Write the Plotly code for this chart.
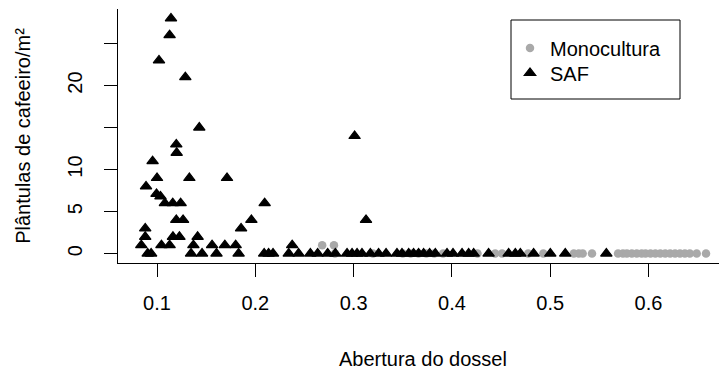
import plotly.graph_objects as go

# ---- data ----
mono_x = [0.268, 0.280, 0.281, 0.3197, 0.350, 0.358, 0.366, 0.374, 0.382, 0.391,
          0.426, 0.444, 0.451, 0.4776, 0.493, 0.524, 0.529, 0.533, 0.5425,
          0.569, 0.574, 0.578, 0.583, 0.588, 0.593, 0.597, 0.602, 0.607, 0.612,
          0.617, 0.622, 0.627, 0.632, 0.637, 0.642, 0.649, 0.6585]
mono_y = [1, 1, 0, 0, 0, 0, 0, 0, 0, 0,
          0, 0, 0, 0, 0, 0, 0, 0, 0,
          0, 0, 0, 0, 0, 0, 0, 0, 0, 0,
          0, 0, 0, 0, 0, 0, 0, 0]

saf_x = [0.1142, 0.1128, 0.1020, 0.1288, 0.1430, 0.3010, 0.1196, 0.1200, 0.0955,
         0.1000, 0.1329, 0.1712, 0.0888, 0.0995, 0.1035, 0.1080, 0.1160, 0.1240,
         0.2095, 0.1196, 0.1265, 0.1960, 0.3126, 0.0880, 0.1855, 0.0880, 0.1162,
         0.1228, 0.1413, 0.0840, 0.1045, 0.1128, 0.1370, 0.1560, 0.1690, 0.1800,
         0.2375,
         0.0905, 0.0940, 0.1346, 0.1458, 0.1605, 0.1830, 0.2090, 0.2135, 0.2180,
         0.2340, 0.2440, 0.2560, 0.2634, 0.2736, 0.2814, 0.2933, 0.2984, 0.3035,
         0.3085, 0.3170, 0.3254, 0.3330, 0.3441, 0.3492, 0.3560, 0.3610, 0.3661,
         0.3712, 0.3773, 0.3831, 0.3950, 0.4011, 0.4103, 0.4170, 0.4221, 0.4373,
         0.4577, 0.4645, 0.4696, 0.4831, 0.5001, 0.5153, 0.5571]
saf_y = [28, 26, 23, 21, 15, 14, 13, 12, 11,
         9, 9, 9, 8, 7.1, 6.8, 6, 6, 6,
         6, 4, 4, 4, 4, 3, 3, 2, 2,
         2, 2, 1, 1, 1, 1, 1, 1, 1,
         1,
         0, 0, 0, 0, 0, 0, 0, 0, 0,
         0, 0, 0, 0, 0, 0, 0, 0, 0,
         0, 0, 0, 0, 0, 0, 0, 0, 0,
         0, 0, 0, 0, 0, 0, 0, 0, 0,
         0, 0, 0, 0, 0, 0, 0]

x_ticks = [0.1, 0.2, 0.3, 0.4, 0.5, 0.6]
x_ticktext = ["0.1", "0.2", "0.3", "0.4", "0.5", "0.6"]
y_ticks = [0, 5, 10, 15, 20, 25]
y_ticktext = ["0", "5", "10", "", "20", ""]

FONT = "Liberation Sans, Arial, sans-serif"
FS = 20

fig = go.Figure()
fig.add_trace(go.Scatter(
    x=mono_x, y=mono_y, mode="markers", name="Monocultura", legend="legend",
    marker=dict(symbol="circle", size=8.5, color="#A9A9A9", line=dict(width=0)),
))
fig.add_trace(go.Scatter(
    x=saf_x, y=saf_y, mode="markers", name="SAF", legend="legend2",
    marker=dict(symbol="triangle-up", size=10, color="black",
                line=dict(width=1.2, color="black")),
))

L, T, B = 118, 9, 109
W, H = 719, 372
pw, ph = W - L, H - T - B

def px(xp):
    return (xp - L) / pw

def py(yp):
    return (H - B - yp) / ph

leg_common = dict(xanchor="left", yanchor="middle",
                  bgcolor="rgba(0,0,0,0)", borderwidth=0,
                  font=dict(family=FONT, size=FS, color="black"))

fig.update_layout(
    width=W, height=H, autosize=False,
    margin=dict(l=L, r=0, t=T, b=B, pad=0, autoexpand=False),
    plot_bgcolor="white", paper_bgcolor="white",
    font=dict(family=FONT, size=FS, color="black"),
    showlegend=True,
    legend=dict(x=px(510), y=py(48), **leg_common),
    legend2=dict(x=px(510), y=py(73), **leg_common),
    xaxis=dict(range=[0.0603, 0.6717], tickvals=x_ticks, ticktext=x_ticktext,
               automargin=False,
               ticks="outside", ticklen=13, tickwidth=1, tickcolor="black",
               showline=True, linecolor="black", linewidth=1,
               showgrid=False, zeroline=False,
               tickfont=dict(family=FONT, size=FS, color="black"),
               ticklabelstandoff=9),
    yaxis=dict(range=[-1.12, 29.12], tickvals=y_ticks, ticktext=y_ticktext,
               automargin=False,
               tickangle=-90,
               ticks="outside", ticklen=13, tickwidth=1, tickcolor="black",
               showline=True, linecolor="black", linewidth=1,
               showgrid=False, zeroline=False,
               tickfont=dict(family=FONT, size=FS, color="black"),
               ticklabelstandoff=14,
               title=dict(text="Plântulas de cafeeiro/m²", standoff=28,
                          font=dict(family=FONT, size=FS, color="black"))),
    shapes=[dict(type="rect", xref="paper", yref="paper",
                 x0=px(511), x1=px(680), y0=py(99), y1=py(20),
                 line=dict(color="black", width=1), fillcolor="rgba(0,0,0,0)")],
    annotations=[dict(text="Abertura do dossel", xref="paper", yref="paper",
                      x=px(423), y=py(359), xanchor="center", yanchor="middle",
                      showarrow=False,
                      font=dict(family=FONT, size=FS, color="black"))],
)

fig.write_html("out.html",
               config={"displayModeBar": False, "staticPlot": True},
               post_script="document.body.style.margin='0';"
                           "document.body.style.overflow='hidden';")
